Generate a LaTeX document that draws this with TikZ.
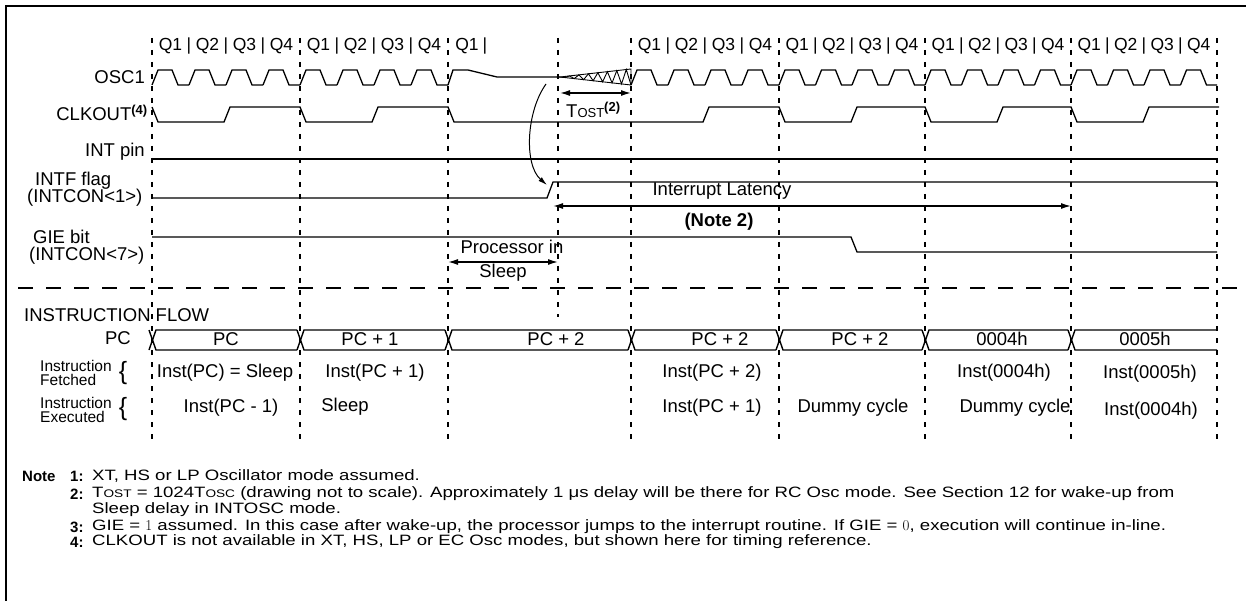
\documentclass[tikz,border=0pt]{standalone}
\usepackage{fontspec}
\setmainfont{Liberation Sans}
\newfontfamily\notefont[FakeStretch=1.24]{Liberation Sans}
\usetikzlibrary{arrows.meta}
\tikzset{
  wave/.style={line width=1.3pt},
  guide/.style={line width=1.6pt,dash pattern=on 5pt off 7pt},
  divider/.style={line width=2pt,dash pattern=on 15pt off 13pt},
  bus/.style={line width=1.4pt},
  lbl/.style={font=\fontsize{18.5}{20}\selectfont,inner sep=0pt},
  qlbl/.style={font=\fontsize{17.5}{19}\selectfont,inner sep=0pt},
  sublbl/.style={font=\fontsize{15.5}{14}\selectfont,inner sep=0pt,anchor=west,align=left},
  notetxt/.style={font=\notefont\fontsize{15}{16}\selectfont,inner sep=0pt,anchor=west},
  notenum/.style={font=\fontsize{15}{16}\selectfont\bfseries,inner sep=0pt,anchor=west},
  dimarrow/.style={line width=1.4pt,{Latex[length=10pt,width=6pt]}-{Latex[length=10pt,width=6pt]}}
}
\begin{document}
\begin{tikzpicture}[x=1pt,y=-1pt]
   \useasboundingbox (0,0) rectangle (1246,601);
   % Frame
   \draw[line width=2pt] (6,601) -- (6,6) -- (1246,6);
   % Cycle boundaries
   \foreach \x in {152,300,448,631,779,925,1071,1217}
     \draw[guide] (\x,38) -- (\x,440);
   \draw[guide] (558,38) -- (558,317);
   % Quarter labels
   \foreach \a/\b [count=\c] in {152/300,300/448,631/779,779/925,925/1071,1071/1217} {
     \foreach \k in {1,...,4}
       \node[qlbl] (q\c-\k) at ({\a+(\k-0.5)*(\b-\a)/4},46) {Q\k};
     \foreach \k in {1,...,3}
       \node[qlbl] (bar\c-\k) at ({\a+\k*(\b-\a)/4},46) {|};
   }
   \node[qlbl] (qs-1) at (467,46) {Q1};
   \node[qlbl] (bars-1) at (485,46) {|};
   % Signal names
   \node[lbl,anchor=east] (osc) at (145,77) {OSC1};
   \node[lbl,anchor=east] (clk) at (148,113) {CLKOUT\textsuperscript{\bfseries\fontsize{13}{13}\selectfont(4)}};
   \node[lbl,anchor=east] (intpin) at (145,152) {INT pin};
   \node[lbl,anchor=west] (intf) at (35,181) {INTF flag};
   \node[lbl,anchor=west] (intcon1) at (27,198) {(INTCON<1>)};
   \node[lbl,anchor=west] (gie) at (33,237) {GIE bit};
   \node[lbl,anchor=west] (intcon7) at (29,256) {(INTCON<7>)};
   % OSC1
   \foreach \a/\b in {152/300,300/448,631/779,779/925,925/1071,1071/1217}
     \foreach \k in {0,...,3}
       \draw[wave] ({\a+\k*(\b-\a)/4},85) -- ++(6,-15) -- ++(14,0) -- ++(6,15) -- ({\a+(\k+1)*(\b-\a)/4},85);
   \draw[wave] (448,85) -- (453,70) -- (468,70) -- (497,77) -- (560,77);
   % Oscillator start-up
   \draw[line width=0.9pt] (560,77) -- (631,69) -- (631,85) -- cycle;
   \draw[line width=0.9pt] (560,77) \foreach \i in {1,...,15} { -- ({560+71*\i/15},{77+(2*mod(\i,2)-1)*8*\i/15}) };
   % CLKOUT
   \draw[wave] (152,107) -- (158,122) -- (224,122) -- (230,107) -- (300,107) -- (306,122) -- (372,122) -- (378,107)
     -- (448,107) -- (454,122) -- (703,122) -- (709,107) -- (779,107) -- (785,122) -- (851,122) -- (857,107)
     -- (925,107) -- (931,122) -- (997,122) -- (1003,107) -- (1071,107) -- (1077,122) -- (1143,122) -- (1149,107) -- (1219,107);
   % INT pin
   \draw[wave] (152,159) -- (1217,159);
   % INTF flag
   \draw[wave] (152,198) -- (547,198) -- (553,182) -- (1217,182);
   % GIE bit
   \draw[wave] (152,237) -- (851,237) -- (857,252) -- (1217,252);
   % Wake-up arrow
   \coordinate (wake) at (546,84);
   \coordinate (flag) at (547,185);
   \draw[line width=1pt,-{Latex[length=9pt,width=5pt]}] (wake) .. controls (526,112) and (524,165) .. (flag);
   % TOST
   \coordinate (tost-l) at (560,93);
   \coordinate (tost-r) at (631,93);
   \draw[dimarrow] (tost-l) -- (tost-r);
   \node[lbl,anchor=west] (tost) at (566,110) {T{\fontsize{13}{13}\selectfont OST}\textsuperscript{\bfseries\fontsize{13}{13}\selectfont(2)}};
   % Interrupt latency
   \coordinate (lat-l) at (553,206);
   \coordinate (lat-r) at (1071,206);
   \draw[dimarrow] (lat-l) -- (lat-r);
   \node[lbl] (latency) at (722,191) {Interrupt Latency};
   \node[lbl,font=\fontsize{18.5}{20}\selectfont\bfseries] (note2) at (719,222) {(Note 2)};
   % Processor in sleep
   \coordinate (slp-l) at (448,262);
   \coordinate (slp-r) at (558,262);
   \draw[dimarrow] (slp-l) -- (slp-r);
   \node[lbl] (proc) at (512,247) {Processor in};
   \node[lbl] (sleep) at (503,273) {Sleep};
   % Separator
   \draw[divider] (18,288) -- (1237,288);
   % Instruction flow
   \node[lbl,anchor=west] (flow) at (24,315) {INSTRUCTION FLOW};
   \node[lbl,anchor=east] (pc) at (131,338) {PC};
   \foreach \a/\b/\m/\v [count=\c] in {152/300/226/PC,300/448/370/PC + 1,448/631/556/PC + 2,631/779/720/PC + 2,
                                       779/925/860/PC + 2,925/1071/1002/0004h,1071/1220/1145/0005h} {
     \draw[bus] (\a-3,330) -- (\a+4,350) -- (\b-3,350);
     \draw[bus] (\a-3,350) -- (\a+4,330) -- (\b-3,330);
     \node[lbl] (pc\c) at (\m,339) {\v};
   }
   % Fetched / executed
   \node[sublbl] (fetch) at (40,373) {Instruction\\Fetched};
   \node[sublbl] (exec) at (40,410) {Instruction\\Executed};
   \node[inner sep=0pt,font=\fontsize{25}{25}\selectfont] (brace1) at (123,373) {\{};
   \node[inner sep=0pt,font=\fontsize{25}{25}\selectfont] (brace2) at (123,409) {\{};
   \node[lbl] (f1) at (225,373) {Inst(PC) = Sleep};
   \node[lbl] (f2) at (375,373) {Inst(PC + 1)};
   \node[lbl] (f3) at (712,373) {Inst(PC + 2)};
   \node[lbl] (f4) at (1004,373) {Inst(0004h)};
   \node[lbl] (f5) at (1150,374) {Inst(0005h)};
   \node[lbl] (e1) at (231,408) {Inst(PC - 1)};
   \node[lbl] (e2) at (345,407) {Sleep};
   \node[lbl] (e3) at (712,408) {Inst(PC + 1)};
   \node[lbl] (e4) at (853,408) {Dummy cycle};
   \node[lbl] (e5) at (1015,408) {Dummy cycle};
   \node[lbl] (e6) at (1151,411) {Inst(0004h)};
   % Notes
   \node[notenum] (note) at (22,476) {Note};
   \foreach \n/\y in {1/476,2/494,3/527,4/542}
     \node[notenum] (num\n) at (70,\y) {\n:};
   \node[notetxt] (n1) at (92,476) {XT, HS or LP Oscillator mode assumed.};
   \node[notetxt] (n2) at (92,494) {T{\fontsize{11}{11}\selectfont OST} = 1024T{\fontsize{11}{11}\selectfont OSC} (drawing not to scale). Approximately 1 μs delay will be there for RC Osc mode. See Section 12 for wake-up from};
   \node[notetxt] (n2b) at (92,510) {Sleep delay in INTOSC mode.};
   \node[notetxt] (n3) at (92,527) {GIE = {\fontspec{Latin Modern Roman}1} assumed. In this case after wake-up, the processor jumps to the interrupt routine. If GIE = {\fontspec{Latin Modern Roman}0}, execution will continue in-line.};
   \node[notetxt] (n4) at (92,542) {CLKOUT is not available in XT, HS, LP or EC Osc modes, but shown here for timing reference.};
\end{tikzpicture}
\end{document}
